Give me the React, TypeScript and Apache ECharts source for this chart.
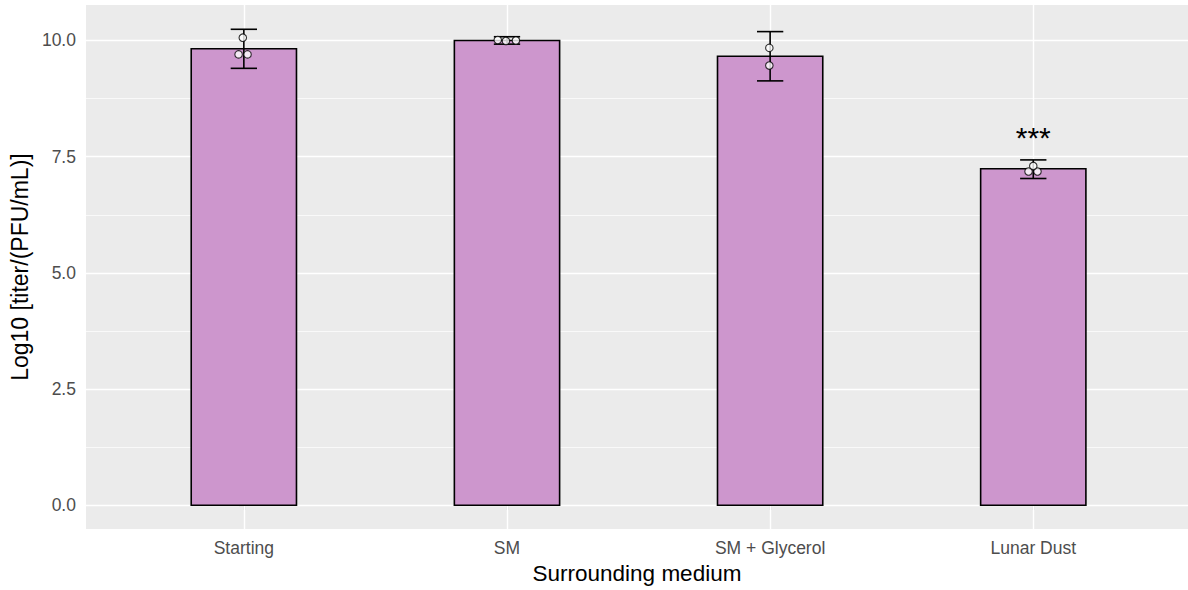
import React, { useEffect, useRef } from "react";
import * as echarts from "echarts";

const categories = ["Starting", "SM", "SM + Glycerol", "Lunar Dust"];
const meanValues = [9.82, 10.0, 9.66, 7.24];
const errorLow = [9.4, 9.92, 9.13, 7.03];
const errorHigh = [10.24, 10.08, 10.19, 7.43];
const pointCategory = [0, 0, 0, 1, 1, 1, 2, 2, 3, 3, 3];
const pointJitter = [-0.004, -0.02, 0.014, -0.035, -0.004, 0.034, -0.003, -0.003, -0.018, 0.016, 0.0];
const pointValues = [10.06, 9.7, 9.7, 10.01, 9.99, 10.0, 9.84, 9.46, 7.18, 7.18, 7.3];
const annotationCategory = [3];
const annotationValue = [7.6];
const annotationText = ["***"];
const yMajorTicks = [0, 2.5, 5, 7.5, 10];
const yMinorTicks = [1.25, 3.75, 6.25, 8.75];

const BAR_WIDTH = 0.4;
const CAP_WIDTH = 0.1;

export default function App() {
  const ref = useRef<HTMLDivElement>(null);
  useEffect(() => {
    document.body.style.margin = "0";
    const chart = echarts.init(ref.current!, null, { renderer: "svg" });
    const font = "'Liberation Sans', Arial, sans-serif";
    const option: any = {
      animation: false,
      backgroundColor: "#ffffff",
      textStyle: { fontFamily: font },
      grid: {
        left: 84,
        right: 0,
        top: 5,
        bottom: 60,
        show: true,
        backgroundColor: "#EBEBEB",
        borderWidth: 0,
        containLabel: false,
      },
      xAxis: {
        type: "value",
        min: -0.6,
        max: 3.588,
        name: "Surrounding medium",
        nameLocation: "middle",
        nameGap: 32,
        nameTextStyle: { color: "#000", fontSize: 22.5, fontFamily: font },
        axisLine: { show: false },
        splitLine: { show: false },
        axisTick: {
          show: true,
          customValues: categories.map((_, i) => i),
          length: 5,
          lineStyle: { color: "#333333", width: 1.1 },
        },
        axisLabel: {
          customValues: categories.map((_, i) => i),
          formatter: (v: number) => categories[Math.round(v)] ?? "",
          color: "#4D4D4D",
          fontSize: 17.5,
          margin: 10,
          fontFamily: font,
        },
      },
      yAxis: {
        type: "value",
        min: -0.5125,
        max: 10.7625,
        name: "Log10 [titer/(PFU/mL)]",
        nameLocation: "middle",
        nameGap: 54,
        nameTextStyle: { color: "#000", fontSize: 23, fontFamily: font },
        axisLine: { show: false },
        splitLine: { show: false },
        axisTick: {
          show: true,
          customValues: yMajorTicks,
          length: 5,
          lineStyle: { color: "#333333", width: 1.1 },
        },
        axisLabel: {
          customValues: yMajorTicks,
          formatter: (v: number) => v.toFixed(1),
          color: "#4D4D4D",
          fontSize: 17.5,
          margin: 10,
          fontFamily: font,
        },
      },
      series: [
        {
          type: "line",
          data: [],
          silent: true,
          z: 1,
          markLine: {
            z: 1,
            silent: true,
            symbol: "none",
            label: { show: false },
            animation: false,
            data: [
              ...yMinorTicks.map((v) => ({ yAxis: v, lineStyle: { color: "#ffffff", width: 0.7, type: "solid" } })),
              ...yMajorTicks.map((v) => ({ yAxis: v, lineStyle: { color: "#ffffff", width: 1.4, type: "solid" } })),
              ...categories.map((_, i) => ({ xAxis: i, lineStyle: { color: "#ffffff", width: 1.4, type: "solid" } })),
            ],
          },
        },
        {
          type: "custom",
          z: 3,
          data: meanValues.map((v, i) => [i, v]),
          renderItem: (params: any, api: any) => {
            const x = api.value(0);
            const y = api.value(1);
            const top = api.coord([x, y]);
            const base = api.coord([x, 0]);
            const w = api.size([BAR_WIDTH, 0])[0];
            return {
              type: "rect",
              shape: { x: top[0] - w / 2, y: top[1], width: w, height: base[1] - top[1] },
              style: { fill: "#CD96CD", stroke: "#000000", lineWidth: 1.6 },
            };
          },
        },
        {
          type: "custom",
          z: 4,
          data: meanValues.map((_, i) => [i, errorLow[i], errorHigh[i]]),
          renderItem: (params: any, api: any) => {
            const x = api.value(0);
            const lo = api.coord([x, api.value(1)]);
            const hi = api.coord([x, api.value(2)]);
            const cw = api.size([CAP_WIDTH, 0])[0];
            const ls = { stroke: "#000000", lineWidth: 1.6 };
            return {
              type: "group",
              children: [
                { type: "line", shape: { x1: lo[0], y1: lo[1], x2: hi[0], y2: hi[1] }, style: ls },
                { type: "line", shape: { x1: lo[0] - cw / 2, y1: lo[1], x2: lo[0] + cw / 2, y2: lo[1] }, style: ls },
                { type: "line", shape: { x1: hi[0] - cw / 2, y1: hi[1], x2: hi[0] + cw / 2, y2: hi[1] }, style: ls },
              ],
            };
          },
        },
        {
          type: "scatter",
          z: 5,
          symbol: "circle",
          symbolSize: 7.5,
          itemStyle: { color: "#ffffff", borderColor: "#000000", borderWidth: 1.1 },
          data: pointValues.map((v, i) => [pointCategory[i] + pointJitter[i], v]),
        },
        {
          type: "custom",
          z: 6,
          data: annotationValue.map((v, i) => [annotationCategory[i], v]),
          renderItem: (params: any, api: any) => {
            const p = api.coord([api.value(0), api.value(1)]);
            return {
              type: "text",
              x: p[0],
              y: p[1],
              style: {
                text: annotationText[params.dataIndex],
                fill: "#000000",
                fontSize: 30,
                fontFamily: font,
                textAlign: "center",
                textVerticalAlign: "bottom",
              },
            };
          },
        },
      ],
    };
    chart.setOption(option);
    return () => chart.dispose();
  }, []);
  return <div ref={ref} style={{ width: 1188, height: 590 }} />;
}
